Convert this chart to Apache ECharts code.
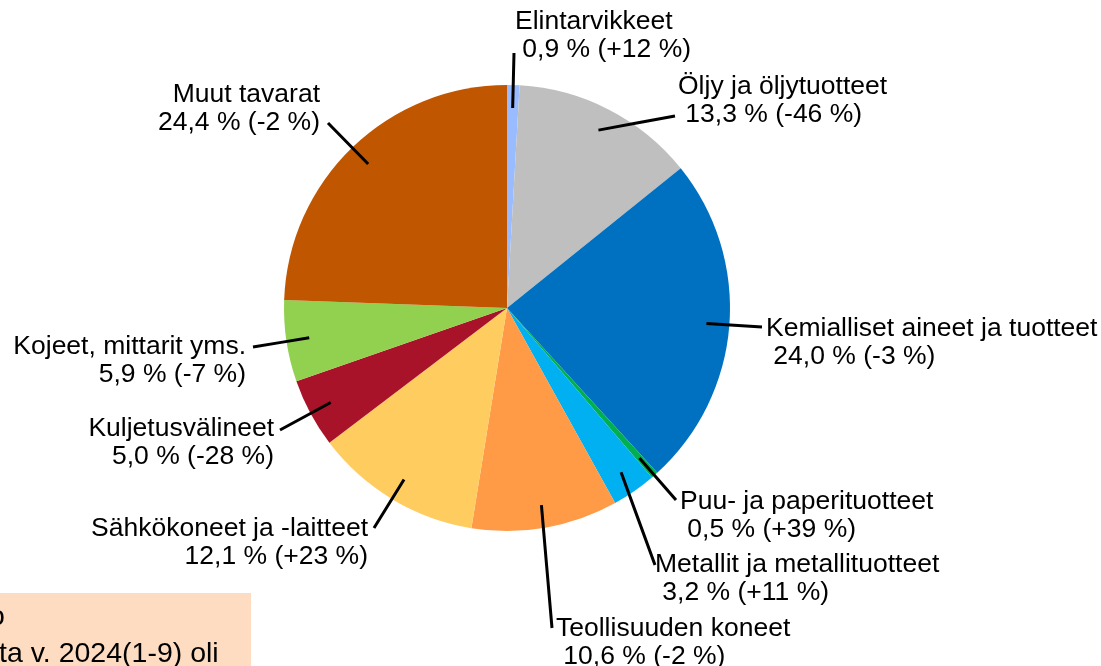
<!DOCTYPE html>
<html>
<head>
<meta charset="utf-8">
<script src="https://cdn.jsdelivr.net/npm/echarts@6/dist/echarts.min.js"></script>
<style>
    html, body { margin: 0; padding: 0; background: #fff; }
    #chart { width: 1101px; height: 666px; }
</style>
</head>
<body>
<div id="chart"></div>
<script>
const categories = [
    "Elintarvikkeet",
    "Öljy ja öljytuotteet",
    "Kemialliset aineet ja tuotteet",
    "Puu- ja paperituotteet",
    "Metallit ja metallituotteet",
    "Teollisuuden koneet",
    "Sähkökoneet ja -laitteet",
    "Kuljetusvälineet",
    "Kojeet, mittarit yms.",
    "Muut tavarat",
];
// share of total, %
const shares = [0.9, 13.3, 24.0, 0.5, 3.2, 10.6, 12.1, 5.0, 5.9, 24.4];
// change from previous year, %
const changes = [12, -46, -3, 39, 11, -2, 23, -28, -7, -2];
const colors = ["#99BBFF", "#BFBFBF", "#0070C0", "#00B050", "#00B0F0", "#FF9A46", "#FFCC60", "#A8132A", "#92D050", "#C05600"];

// label placement: left x (or right x), centre of first line, end of the leader line
const labelPos = [
    { x: 515, y: 20, align: "left", end: [514, 53] },
    { x: 678, y: 85, align: "left", end: [675, 116] },
    { x: 766, y: 327, align: "left", end: [762, 327] },
    { x: 680, y: 500, align: "left", end: [676, 500] },
    { x: 655, y: 563, align: "left", end: [655, 565] },
    { x: 556, y: 627, align: "left", end: [552, 628] },
    { x: 368, y: 527, align: "right", end: [374, 528] },
    { x: 274, y: 427, align: "right", end: [280, 430] },
    { x: 246, y: 345, align: "right", end: [253, 347] },
    { x: 320, y: 93, align: "right", end: [328, 123] },
];

const font = 'Arial, "Liberation Sans", sans-serif';
const fontSize = 26.5;
const lineHeight = 27.5;

const fmt = (v) => v.toFixed(1).replace(".", ",");
const fmtChange = (v) => (v > 0 ? "+" : "") + v;

const pieData = categories.map((name, i) => ({
    name: name,
    value: shares[i],
    itemStyle: { color: colors[i] },
}));

let option = {
    backgroundColor: "#fff",
    animation: false,
    graphic: [
        { type: "rect", shape: { x: 0, y: 593, width: 251, height: 80 }, style: { fill: "#FDDCC2" } },
        { type: "text", x: -11, y: 617, style: { text: "o", font: `28.5px ${font}`, fill: "#000", verticalAlign: "middle" } },
        { type: "text", x: -1, y: 654, style: { text: "ta v. 2024(1-9) oli", font: `28.5px ${font}`, fill: "#000", verticalAlign: "middle" } },
    ],
    series: [
        {
            type: "pie",
            center: [507, 308],
            radius: 223,
            startAngle: 90,
            clockwise: true,
            silent: true,
            label: { show: false },
            labelLine: { show: false },
            data: pieData,
        },
        {
            // transparent copy, only carries the labels so leader lines start inside the slices
            type: "pie",
            z: 5,
            center: [507, 308],
            radius: 200,
            startAngle: 90,
            clockwise: true,
            silent: true,
            avoidLabelOverlap: false,
            itemStyle: { color: "transparent" },
            label: {
                show: true,
                position: "outside",
                color: "#000",
                fontFamily: font,
                fontSize: fontSize,
                lineHeight: lineHeight,
                formatter: (p) => `${p.name}\n ${fmt(shares[p.dataIndex])} % (${fmtChange(changes[p.dataIndex])} %)`,
            },
            labelLine: {
                show: true,
                length: 10,
                length2: 0,
                lineStyle: { color: "#000", width: 3 },
            },
            labelLayout: (params) => {
                const pos = labelPos[params.dataIndex];
                const start = params.labelLinePoints ? params.labelLinePoints[0] : pos.end;
                const mid = [(start[0] + pos.end[0]) / 2, (start[1] + pos.end[1]) / 2];
                return {
                    x: pos.x,
                    y: pos.y + 2 - lineHeight / 2,
                    align: pos.align,
                    verticalAlign: "top",
                    labelLinePoints: [start, mid, pos.end],
                };
            },
            data: pieData.map((d) => ({ name: d.name, value: d.value })),
        },
    ],
};

let chart = echarts.init(document.getElementById("chart"));
chart.setOption(option);
</script>
</body>
</html>
